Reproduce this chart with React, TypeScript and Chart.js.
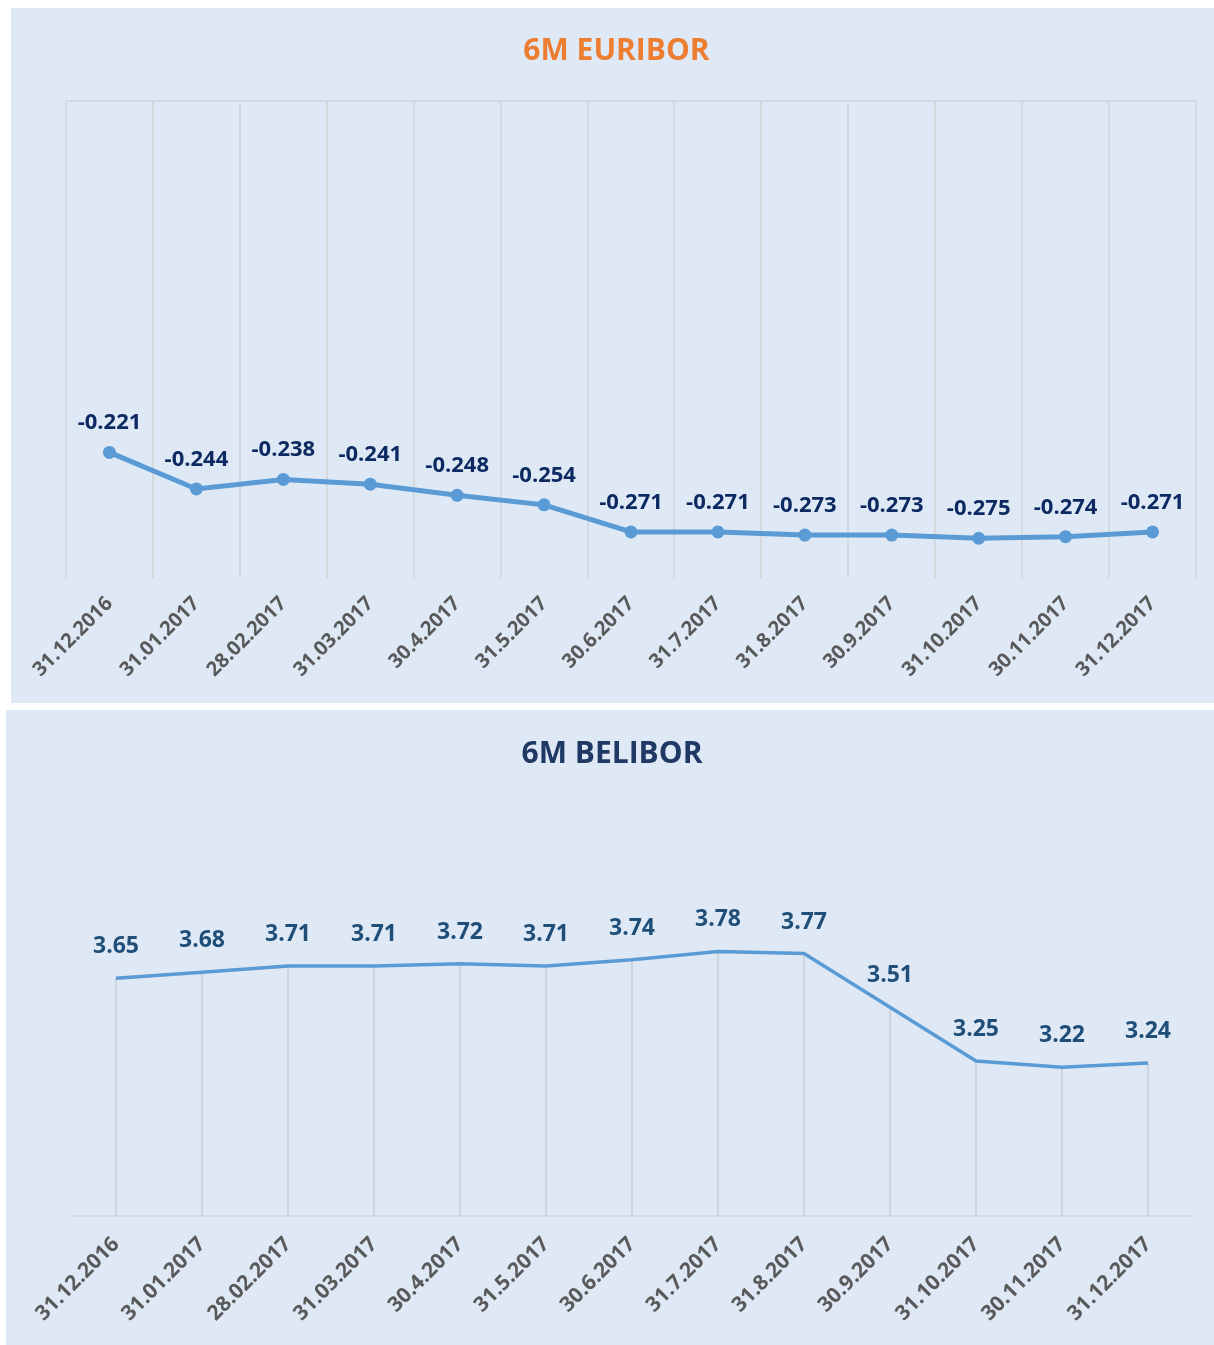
import React, { useEffect, useRef } from "react";
import { Chart, registerables } from "chart.js";

Chart.register(...registerables);

const categories = [
  "31.12.2016", "31.01.2017", "28.02.2017", "31.03.2017", "30.4.2017", "31.5.2017",
  "30.6.2017", "31.7.2017", "31.8.2017", "30.9.2017", "31.10.2017", "30.11.2017", "31.12.2017",
];
const euriborValues = [-0.221, -0.244, -0.238, -0.241, -0.248, -0.254, -0.271, -0.271, -0.273, -0.273, -0.275, -0.274, -0.271];
const beliborValues = [3.65, 3.68, 3.71, 3.71, 3.72, 3.71, 3.74, 3.78, 3.77, 3.51, 3.25, 3.22, 3.24];

const FONT = "'Open Sans', 'DejaVu Sans', sans-serif";
const BG = "#dee9f5";
const LINE = "#5b9bd5";

function labelsPlugin(color: string, size: number, offset: number, decimals: number) {
  return {
    id: "valueLabels",
    afterDatasetsDraw(chart: any) {
      const ctx = chart.ctx;
      const meta = chart.getDatasetMeta(0);
      const data = chart.data.datasets[0].data as number[];
      ctx.save();
      ctx.font = `bold ${size}px ${FONT}`;
      ctx.fillStyle = color;
      ctx.textAlign = "center";
      ctx.textBaseline = "alphabetic";
      meta.data.forEach((pt: any, i: number) => {
        ctx.fillText(data[i].toFixed(decimals), pt.x, pt.y - offset);
      });
      ctx.restore();
    },
  };
}

const dropLinesPlugin = {
  id: "dropLines",
  beforeDatasetsDraw(chart: any) {
    const ctx = chart.ctx;
    const meta = chart.getDatasetMeta(0);
    const bottom = chart.chartArea.bottom;
    ctx.save();
    ctx.strokeStyle = "#cdd4dc";
    ctx.lineWidth = 2;
    meta.data.forEach((pt: any) => {
      ctx.beginPath();
      ctx.moveTo(pt.x, pt.y);
      ctx.lineTo(pt.x, bottom);
      ctx.stroke();
    });
    ctx.restore();
  },
};

function EuriborChart() {
  const ref = useRef<HTMLCanvasElement>(null);
  useEffect(() => {
    const chart = new Chart(ref.current!, {
      type: "line",
      data: {
        labels: categories,
        datasets: [
          {
            data: euriborValues,
            borderColor: LINE,
            backgroundColor: LINE,
            borderWidth: 5,
            pointRadius: 6.5,
            pointBorderWidth: 0,
            pointBackgroundColor: LINE,
            tension: 0,
            clip: false as any,
          },
        ],
      },
      options: {
        animation: false,
        responsive: false,
        maintainAspectRatio: false,
        layout: { padding: { left: 55, right: 18, top: 93, bottom: 0 } },
        plugins: { legend: { display: false }, tooltip: { enabled: false }, title: { display: false } },
        scales: {
          x: {
            offset: true,
            grid: { display: true, offset: true, color: "#d5d8dc", lineWidth: 2, drawTicks: false },
            border: { display: false },
            ticks: {
              minRotation: 45,
              maxRotation: 45,
              padding: 14,
              color: "#595959",
              font: { family: FONT, size: 20, weight: "bold" },
            },
            afterFit: (s: any) => { s.height = 125; },
          },
          y: {
            min: -0.3,
            max: 0,
            ticks: { display: false, stepSize: 0.3 },
            grid: {
              drawTicks: false,
              lineWidth: 2,
              color: (c: any) => (c.tick && Math.abs(c.tick.value) < 1e-9 ? "#d5d8dc" : "rgba(0,0,0,0)"),
            },
            border: { display: false },
            afterFit: (s: any) => { s.width = 0; },
          },
        },
      },
      plugins: [labelsPlugin("#0c2a61", 22, 23, 3)],
    });
    return () => chart.destroy();
  }, []);
  return <canvas ref={ref} width={1203} height={695} style={{ position: "absolute", left: 0, top: 0 }} />;
}

function BeliborChart() {
  const ref = useRef<HTMLCanvasElement>(null);
  useEffect(() => {
    const chart = new Chart(ref.current!, {
      type: "line",
      data: {
        labels: categories,
        datasets: [
          {
            data: beliborValues,
            borderColor: LINE,
            backgroundColor: LINE,
            borderWidth: 3.5,
            pointRadius: 0,
            tension: 0,
            clip: false as any,
          },
        ],
      },
      options: {
        animation: false,
        responsive: false,
        maintainAspectRatio: false,
        layout: { padding: { left: 67, right: 23, top: 196, bottom: 0 } },
        plugins: { legend: { display: false }, tooltip: { enabled: false }, title: { display: false } },
        scales: {
          x: {
            offset: true,
            grid: { display: false, drawTicks: false },
            border: { display: true, color: "#d5d8dc", width: 2 },
            ticks: {
              minRotation: 45,
              maxRotation: 45,
              padding: 16,
              color: "#595959",
              font: { family: FONT, size: 21, weight: "bold" },
            },
            afterFit: (s: any) => { s.height = 129; },
          },
          y: {
            min: 2.5,
            max: 4.0,
            ticks: { display: false },
            grid: { display: false, drawTicks: false },
            border: { display: false },
            afterFit: (s: any) => { s.width = 0; },
          },
        },
      },
      plugins: [dropLinesPlugin, labelsPlugin("#1f4e79", 23, 25, 2)],
    });
    return () => chart.destroy();
  }, []);
  return <canvas ref={ref} width={1208} height={635} style={{ position: "absolute", left: 0, top: 0 }} />;
}

export default function App() {
  const titleStyle: React.CSSProperties = {
    position: "absolute",
    left: 0,
    width: "100%",
    textAlign: "center",
    fontFamily: FONT,
    fontWeight: 700,
    fontSize: 30,
    lineHeight: "34px",
    zIndex: 2,
  };
  return (
    <div style={{ position: "absolute", left: 0, top: 0, width: 1214, height: 1345, background: "#ffffff" }}>
      <div style={{ position: "absolute", left: 11, top: 8, width: 1203, height: 695, background: BG }}>
        <EuriborChart />
        <div style={{ ...titleStyle, top: 24, left: 4, color: "#ed7d31" }}>6M EURIBOR</div>
      </div>
      <div style={{ position: "absolute", left: 6, top: 710, width: 1208, height: 635, background: BG }}>
        <BeliborChart />
        <div style={{ ...titleStyle, top: 25, left: 2, color: "#1f3864" }}>6M BELIBOR</div>
      </div>
    </div>
  );
}
